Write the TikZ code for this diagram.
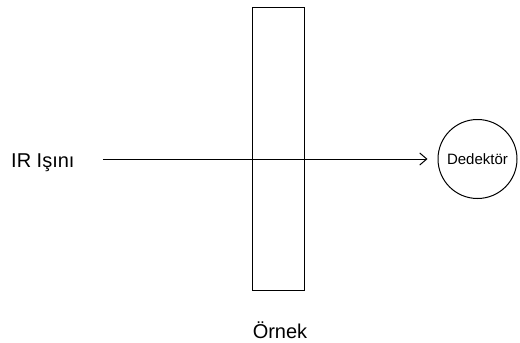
\documentclass[tikz,border=0pt]{standalone}
\usepackage{fontspec}
\setmainfont{Liberation Sans}
\usetikzlibrary{arrows.meta,positioning}

\begin{document}
\begin{tikzpicture}[x=1pt,y=-1pt,
  lbl/.style={inner sep=0pt,font=\fontsize{20}{24}\selectfont},
  sample/.style={rectangle,draw,line width=1pt,minimum width=52pt,
                 minimum height=283pt},
  detector/.style={circle,draw,line width=1pt,minimum size=79pt,inner sep=0pt,
                   font=\fontsize{15}{18}\selectfont},
  ray/.style={-{Straight Barb[length=7pt,width=12pt]},line width=1pt}
]
  \useasboundingbox (0,0) rectangle (520,343);

  % ---- sample slab ----------------------------------------------
  \node[sample] (ornek) at (278.5,149) {};
  \node[lbl,anchor=base] (ornekname) at (280,338.5) {Örnek};

  % ---- source label and detector --------------------------------
  \node[lbl,anchor=base west] (ir) at (11,167.5) {IR Işını};
  \node[detector] (det) at (477.5,159) {Dedektör};

  % ---- beam through the sample ----------------------------------
  \draw[ray,shorten <=28pt,shorten >=10pt] (ir.east |- det.west) -- (det.west);

\end{tikzpicture}
\end{document}
